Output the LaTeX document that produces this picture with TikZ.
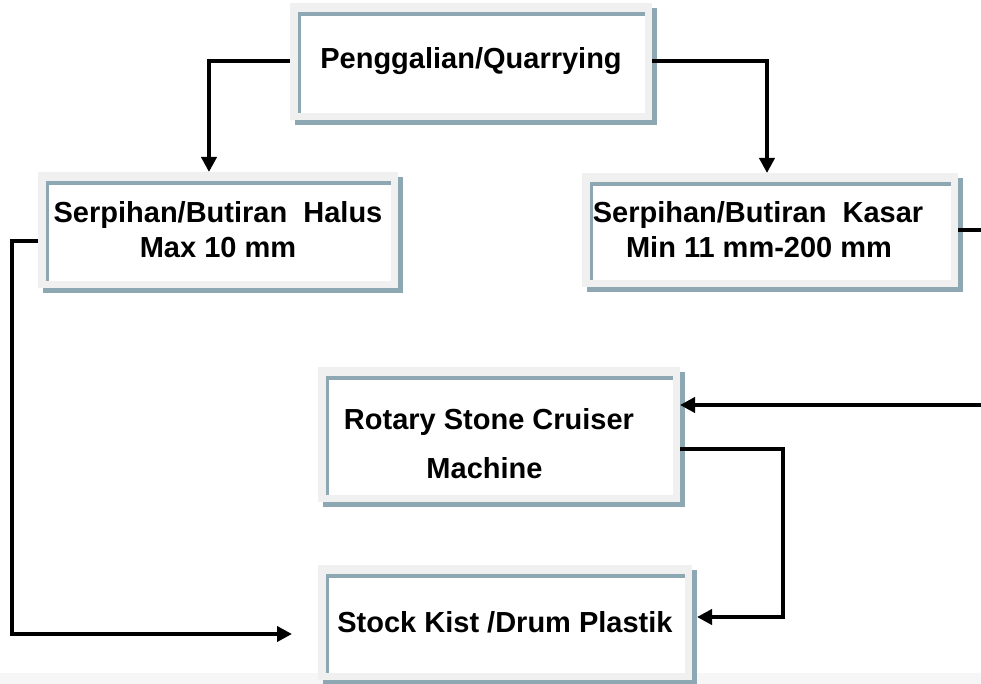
\documentclass[tikz,border=0pt]{standalone}
\usepackage{fontspec}
\setmainfont{Liberation Sans}
\usetikzlibrary{arrows.meta,shadows}

\definecolor{framegrey}{HTML}{F0F0F0}
\definecolor{boxshade}{HTML}{8DA8B2}

\tikzset{
  stonebox/.style={rectangle, fill=framegrey, draw=none, inner sep=0pt, outer sep=0pt,
    align=center, font=\fontsize{29}{35}\selectfont\bfseries,
    drop shadow={shadow xshift=5pt, shadow yshift=-5pt, fill=boxshade, opacity=1},
    path picture={
      \fill[white] ([shift={(8pt,7pt)}]path picture bounding box.south west)
        rectangle ([shift={(-7pt,-9pt)}]path picture bounding box.north east);
      \fill[boxshade] ([shift={(8pt,7pt)}]path picture bounding box.south west)
        rectangle ([shift={(11pt,-9pt)}]path picture bounding box.north west);
      \fill[boxshade] ([shift={(8pt,-9pt)}]path picture bounding box.north west)
        rectangle ([shift={(-7pt,-13pt)}]path picture bounding box.north east);
    }},
  flow/.style={line width=4pt, -{Triangle[length=15pt,width=15pt]}}
}

\begin{document}
\begin{tikzpicture}[x=1pt,y=-1pt]
            \useasboundingbox (0,0) rectangle (981,684);
            \fill[white] (0,0) rectangle (981,684);
            \fill[gray!7] (0,673) rectangle (981,684);
            \node (quarry) at (471,61.5) [stonebox,minimum width=362pt,minimum height=117pt] {Penggalian/Quarrying};
            \node (halus) at (218,230) [stonebox,minimum width=360pt,minimum height=116pt] {Serpihan/Butiran\ \ Halus\\Max 10 mm};
            \node (kasar) at (770,230) [stonebox,minimum width=376pt,minimum height=114pt] {Serpihan/Butiran\ \ Kasar\hspace*{24pt}\\Min 11 mm-200 mm\hspace*{22pt}};
            \node (rotary) at (499,434.5) [stonebox,minimum width=362pt,minimum height=135pt] {\rule{0pt}{40pt}Rotary Stone Cruiser\hspace*{20pt}\\[14pt]Machine\hspace*{29pt}};
            \node (stock) at (505,622.5) [stonebox,minimum width=374pt,minimum height=115pt] {Stock Kist /Drum Plastik};
            \draw[flow] (quarry.west) -| ([xshift=-9pt]halus.north);
            \draw[flow] (quarry.east) -| ([xshift=-3pt]kasar.north);
            \draw[flow] ([yshift=-11pt]halus.west) -- ++(-26,0) |- ([xshift=-26pt,yshift=-11.5pt]stock.west);
            \draw[flow] (kasar.east) -- ++(35,0) |- ([yshift=29.5pt]rotary.east);
            \draw[flow] ([yshift=-14.5pt]rotary.east) -- ++(103,0) |- ([xshift=5pt,yshift=5.5pt]stock.east);
\end{tikzpicture}
\end{document}
